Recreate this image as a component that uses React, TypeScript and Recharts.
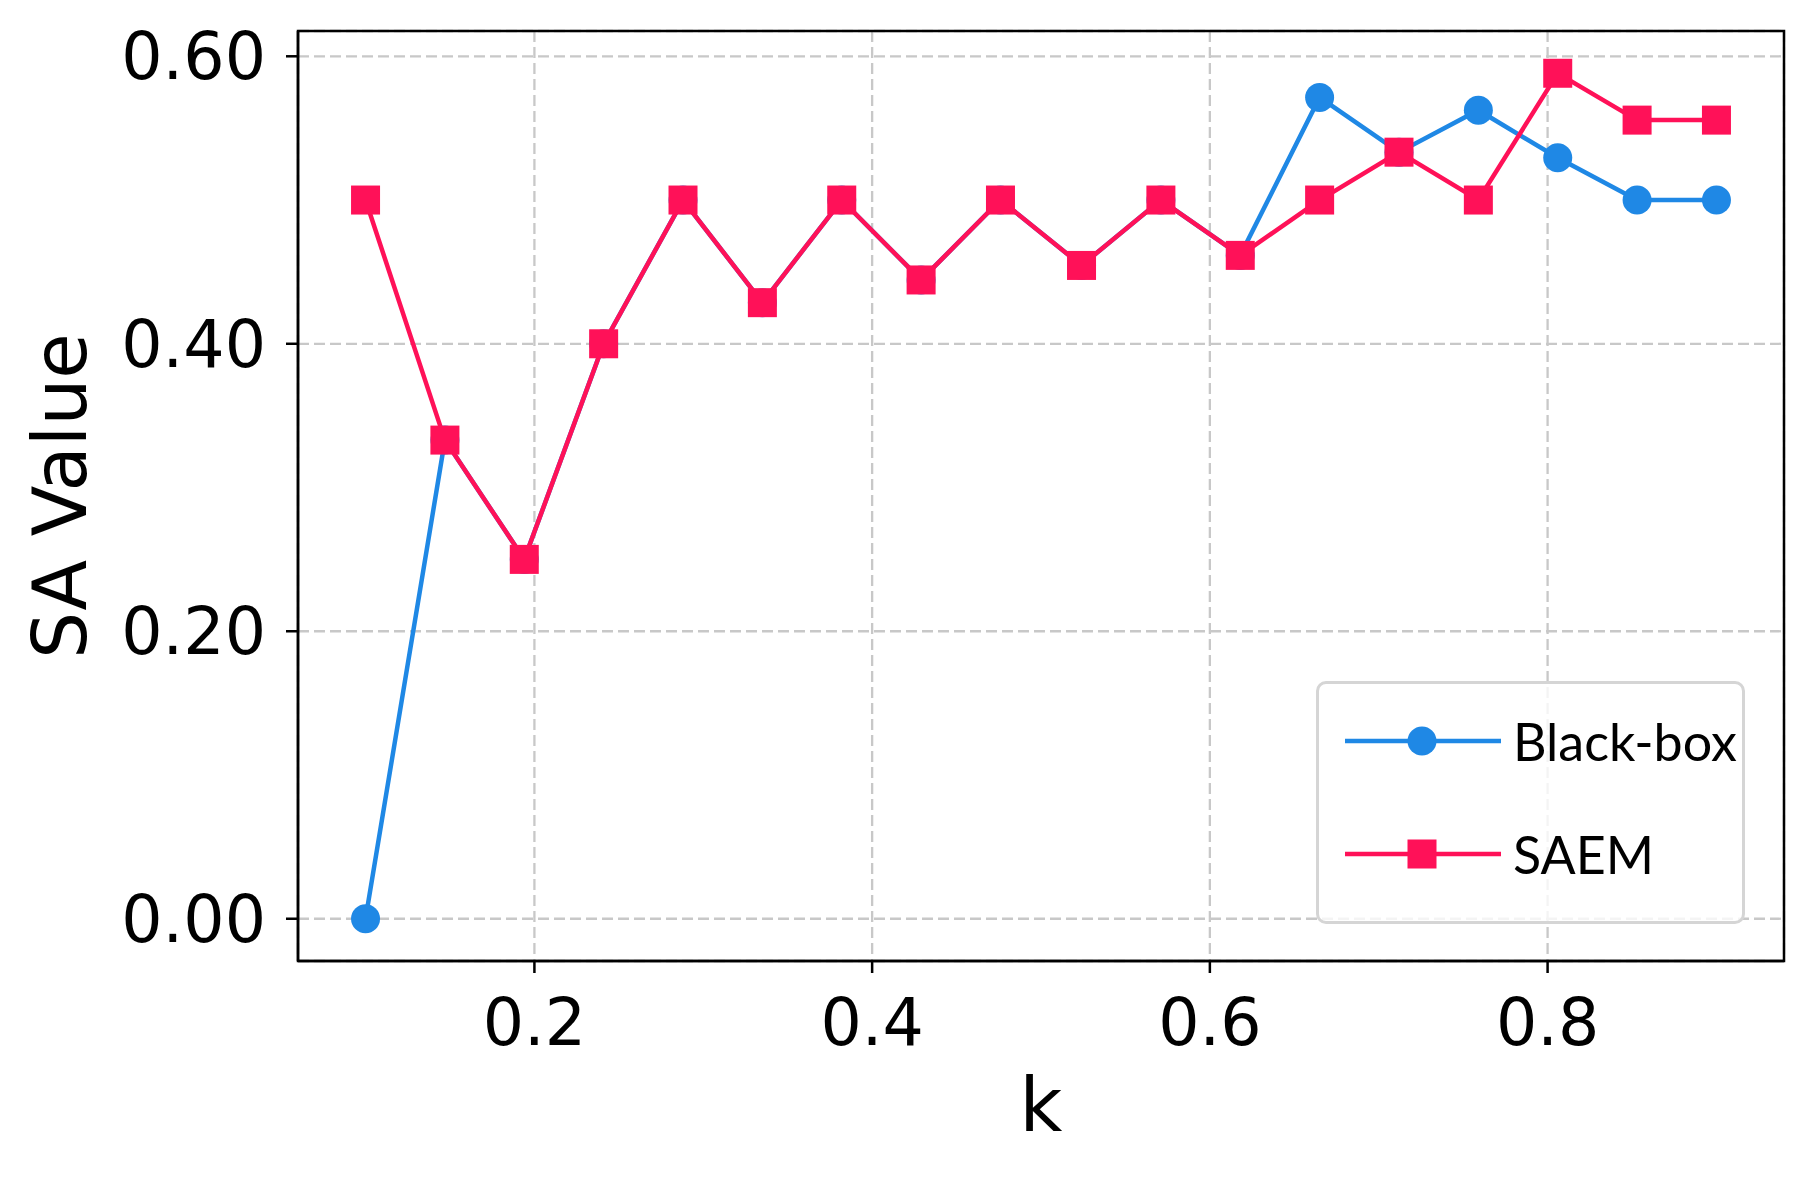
import React from 'react';
import { LineChart, Line, XAxis, YAxis, CartesianGrid, ReferenceArea } from 'recharts';

const kValues = [0.1, 0.147, 0.194, 0.241, 0.288, 0.335, 0.382, 0.429, 0.476, 0.524, 0.571, 0.618, 0.665, 0.712, 0.759, 0.806, 0.853, 0.9];
const blackBox = [0, 0.333, 0.25, 0.4, 0.5, 0.4286, 0.5, 0.4444, 0.5, 0.4545, 0.5, 0.4615, 0.5714, 0.5333, 0.5625, 0.5294, 0.5, 0.5];
const saem = [0.5, 0.333, 0.25, 0.4, 0.5, 0.4286, 0.5, 0.4444, 0.5, 0.4545, 0.5, 0.4615, 0.5, 0.5333, 0.5, 0.5882, 0.5556, 0.5556];
const xTicks = [0.2, 0.4, 0.6, 0.8];
const yTicks = [0, 0.2, 0.4, 0.6];

const X_DOMAIN = [0.06, 0.94];
const Y_DOMAIN = [-0.0294, 0.6176];

const BLUE = '#1f88e5';
const PINK = '#ff1158';

const data = kValues.map((k, i) => ({ k, blackBox: blackBox[i], saem: saem[i] }));

const SquareDot = (props: any) => {
  const { cx, cy } = props;
  if (cx == null || cy == null) return null;
  return <rect x={cx - 14.5} y={cy - 14.5} width={29} height={29} fill={PINK} />;
};

const legendItems = [
  { name: 'Black-box', color: BLUE, shape: 'circle' },
  { name: 'SAEM', color: PINK, shape: 'square' },
];

// legend drawn as an overlay so it doesn't eat into the plot area
const ChartLegend = () => (
  <div
    style={{
      position: 'absolute',
      left: 1316,
      top: 681,
      width: 429,
      height: 243,
      boxSizing: 'border-box',
      border: '3px solid #d5d5d5',
      borderRadius: 10,
      background: 'rgba(255,255,255,0.8)',
      paddingTop: 0,
    }}
  >
    {legendItems.map((it) => (
      <div key={it.name} style={{ display: 'flex', alignItems: 'center', height: 113 }}>
        <svg width={194} height={40} style={{ flex: 'none' }}>
          <line x1={26} x2={182} y1={20} y2={20} stroke={it.color} strokeWidth={4.5} />
          {it.shape === 'circle' ? (
            <circle cx={103} cy={20} r={14.5} fill={it.color} />
          ) : (
            <rect x={88.5} y={5.5} width={29} height={29} fill={it.color} />
          )}
        </svg>
        <span style={{ fontFamily: 'Lato', fontSize: 52, color: '#000', lineHeight: 1 }}>{it.name}</span>
      </div>
    ))}
  </div>
);

const tickStyle = { fontFamily: 'DejaVu Sans', fontSize: 65, fill: '#000' };

export default function App() {
  return (
    <div style={{ position: 'absolute', left: 0, top: 0, width: 1813, height: 1177, background: '#fff' }}>
      <LineChart width={1813} height={1177} data={data} margin={{ top: 31, right: 29, bottom: 36, left: 28 }}>
        <CartesianGrid stroke="#c8c8c8" strokeWidth={2.3} strokeDasharray="11 5" />
        <XAxis
          dataKey="k"
          type="number"
          domain={X_DOMAIN}
          allowDataOverflow
          ticks={xTicks}
          tickFormatter={(v: number) => v.toFixed(1)}
          tick={tickStyle}
          tickSize={12}
          tickMargin={26}
          height={180}
          stroke="#000"
          strokeWidth={2.5}
          label={{ value: 'k', position: 'insideBottom', offset: 10, style: { fontFamily: 'DejaVu Sans', fontSize: 74, fill: '#000' } }}
        />
        <YAxis
          type="number"
          domain={Y_DOMAIN}
          allowDataOverflow
          ticks={yTicks}
          tickFormatter={(v: number) => v.toFixed(2)}
          tick={tickStyle}
          tickSize={12}
          tickMargin={20}
          width={270}
          stroke="#000"
          strokeWidth={2.5}
          label={{
            value: 'SA Value',
            angle: -90,
            position: 'insideLeft',
            offset: 32,
            style: { fontFamily: 'DejaVu Sans', fontSize: 74, fill: '#000', textAnchor: 'middle' },
          }}
        />
        <ReferenceArea
          x1={X_DOMAIN[0]}
          x2={X_DOMAIN[1]}
          y1={Y_DOMAIN[0]}
          y2={Y_DOMAIN[1]}
          fill="none"
          stroke="#000"
          strokeWidth={2.5}
          ifOverflow="visible"
        />
        <Line
          dataKey="blackBox"
          name="Black-box"
          stroke={BLUE}
          strokeWidth={4.5}
          dot={{ r: 14.5, fill: BLUE, stroke: 'none' }}
          activeDot={false}
          isAnimationActive={false}
        />
        <Line
          dataKey="saem"
          name="SAEM"
          stroke={PINK}
          strokeWidth={4.5}
          dot={<SquareDot />}
          activeDot={false}
          isAnimationActive={false}
        />
      </LineChart>
      <ChartLegend />
    </div>
  );
}
